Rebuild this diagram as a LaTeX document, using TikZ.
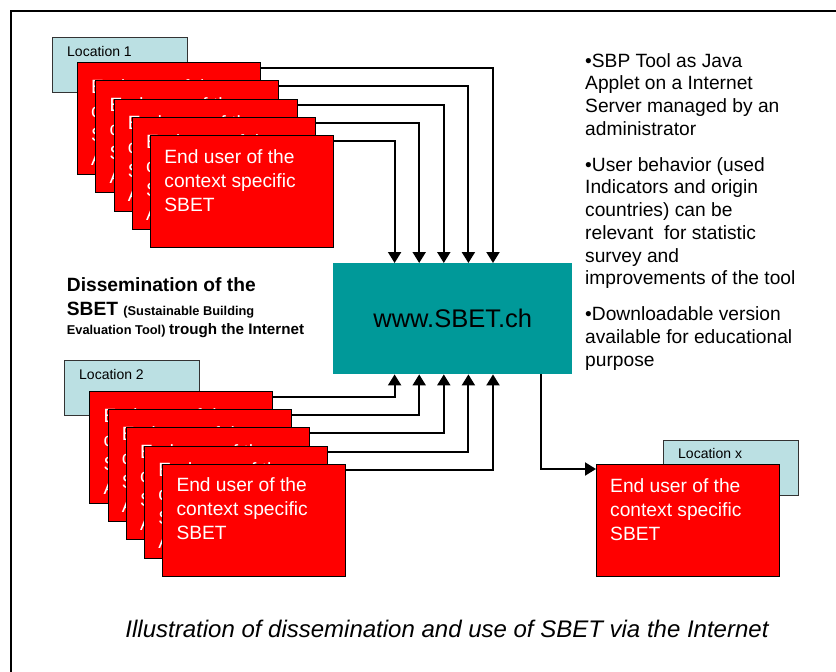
\documentclass[tikz,border=0pt]{standalone}
\usepackage{fontspec}
\setmainfont{Liberation Sans}
\usepackage{xcolor}
\usetikzlibrary{calc, positioning, arrows.meta}

\definecolor{userred}{RGB}{255,0,0}
\definecolor{serverteal}{RGB}{0,153,153}
\definecolor{locationblue}{RGB}{187,224,227}

\tikzset{
	userbox/.style = {draw = black, fill = userred, line width = 0.8pt, minimum width = 183pt, minimum height = 112pt, inner sep = 0pt, anchor = north west},
	usertext/.style = {text = white, align = left, inner sep = 0pt, anchor = north west, font = \fontsize{19.2}{24}\selectfont},
	locationbox/.style = {draw = black!80, fill = locationblue, line width = 0.8pt, minimum width = 135pt, minimum height = 55pt, inner sep = 0pt, anchor = north west},
	locationtext/.style = {inner sep = 0pt, anchor = base west, font = \fontsize{14}{16}\selectfont},
	link/.style = {draw, line width = 2pt, -{Triangle[width = 13pt, length = 11pt]}},
}

\begin{document}
\begin{tikzpicture}[x = 1pt, y = -1pt]
		\def\stepx{18.3};
		\def\stepy{18.3};
		\def\gap{24.6};

		\useasboundingbox (0,0) rectangle (836,672);
		\draw [line width = 1.5pt] (11,672) -- (11,11) -- (836,11);

		% server
		\node [fill = serverteal, minimum width = 239pt, minimum height = 111pt, inner sep = 0pt, anchor = north west, font = \fontsize{25.5}{30}\selectfont] (sbet) at (333,263) {www.SBET.ch};

		% first location
		\node [locationbox] (location 1) at (52,37) {};
		\node [locationtext] (location 1 text) at ($(location 1.north west) + (15,19)$) {Location 1};
		\foreach \i in {1,...,5} {
			\node [userbox] (top user \i) at ({77 + \stepx*(\i - 1)}, {62 + \stepy*(\i - 1)}) {};
			\ifnum\i<5
				\node [usertext] (top text \i) at ($(top user \i.north west) + (14,17)$) {End user of the\\context specific\\SBET\\A};
			\else
				\node [usertext] (top text \i) at ($(top user \i.north west) + (14,14)$) {End user of the\\context specific\\SBET};
			\fi
			\draw [link] ($(top user \i.north east) + (0,6)$) -| ($(sbet.north west) + ({160 - \gap*(\i - 1)},0)$);
		}

		% second location
		\node [locationbox] (location 2) at (64,360) {};
		\node [locationtext] (location 2 text) at ($(location 2.north west) + (15,19)$) {Location 2};
		\foreach \i in {1,...,5} {
			\node [userbox] (bottom user \i) at ({89.3 + 18.25*(\i - 1)}, {391 + 18.2*(\i - 1)}) {};
			\ifnum\i<5
				\node [usertext] (bottom text \i) at ($(bottom user \i.north west) + (14,17)$) {End user of the\\context specific\\SBET\\A};
			\else
				\node [usertext] (bottom text \i) at ($(bottom user \i.north west) + (14,14)$) {End user of the\\context specific\\SBET};
			\fi
			\draw [link] ($(bottom user \i.north east) + (0,6)$) -| ($(sbet.south west) + ({61.6 + \gap*(\i - 1)},0)$);
		}

		% location x
		\node [locationbox] (location x) at (663,440) {};
		\node [locationtext] (location x text) at ($(location x.north west) + (15,18)$) {Location x};
		\node [userbox] (user x) at (596,464) {};
		\node [usertext] (text x) at ($(user x.north west) + (14,14.5)$) {End user of the\\context specific\\SBET};
		\draw [link] ($(sbet.south west) + (208,0)$) |- ($(user x.north west) + (0,5)$);

		% title
		\node [anchor = base west, inner sep = 0pt, font = \bfseries\fontsize{19.2}{22}\selectfont] (title 1) at (66.7,291.7) {Dissemination of the};
		\node [anchor = base west, inner sep = 0pt, font = \bfseries\fontsize{19.2}{22}\selectfont] (title 2) at (66.7,315) {SBET {\fontsize{12.8}{15}\selectfont (Sustainable Building}};
		\node [anchor = base west, inner sep = 0pt, font = \bfseries\fontsize{12.8}{15}\selectfont] (title 3) at (66.7,334) {Evaluation Tool) {\fontsize{15.2}{18}\selectfont trough the Internet}};

		% notes
		\node [anchor = north west, align = left, inner sep = 0pt, font = \fontsize{19.2}{22.7}\selectfont] (notes) at (585,53) {%
			•SBP Tool as Java\\Applet on a Internet\\Server managed by an\\administrator\\[13.3pt]
			•User behavior (used\\Indicators and origin\\countries) can be\\relevant~ for statistic\\survey and\\improvements of the tool\\[13.3pt]
			•Downloadable version\\available for educational\\purpose};

		% caption
		\node [anchor = base, inner sep = 0pt, font = \itshape\fontsize{24}{28}\selectfont] (caption) at (447,637) {Illustration of dissemination and use of SBET via the Internet};
	\end{tikzpicture}
\end{document}
